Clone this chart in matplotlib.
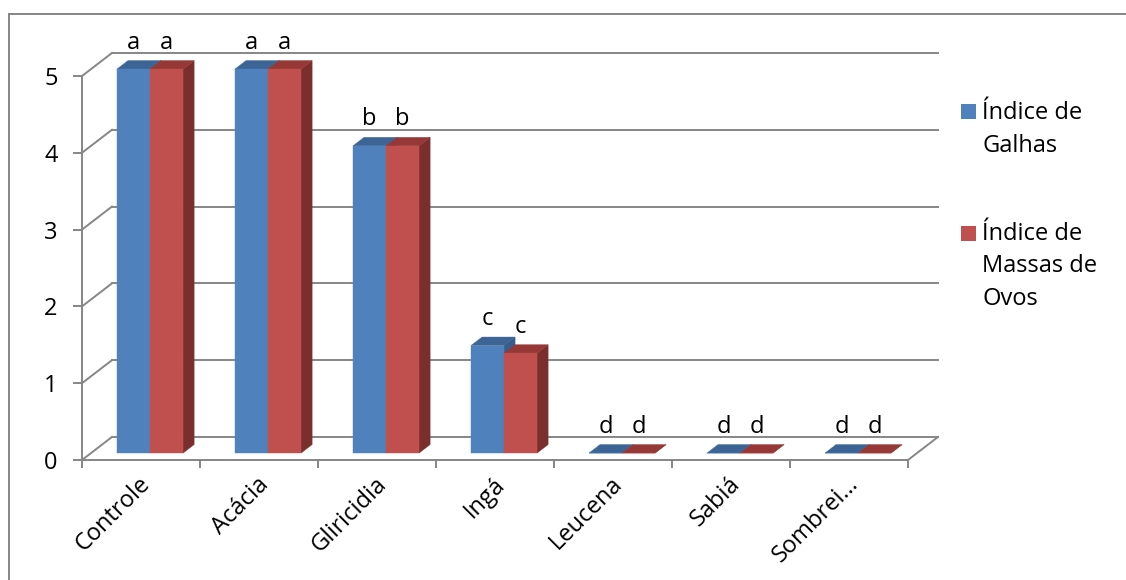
import matplotlib
matplotlib.use("Agg")
import matplotlib.pyplot as plt
from matplotlib.patches import Polygon
from matplotlib.lines import Line2D
from matplotlib.transforms import ScaledTranslation

categories = ["Controle", "Acácia", "Gliricidia", "Ingá", "Leucena", "Sabiá", "Sombrei…"]
galhas = [5, 5, 4, 1.4, 0, 0, 0]
massas = [5, 5, 4, 1.3, 0, 0, 0]
letras_galhas = ["a", "a", "b", "c", "d", "d", "d"]
letras_massas = ["a", "a", "b", "c", "d", "d", "d"]
series_names = ["Índice de\nGalhas", "Índice de\nMassas de\nOvos"]
y_ticks = [0, 1, 2, 3, 4, 5]

W, H = 1126, 580
GRAY = "#868686"
FONT = "Open Sans"
FS = 17

# face colours: front, top, side
blue = ("#4F81BD", "#3C6596", "#385D8A")
red = ("#C0504D", "#953836", "#7B2F2D")

# depth of the 3d box in data units, and where the bars sit inside it
DX, DY = 0.254, 0.30
F1, F2 = 0.30, 0.67
BAR_W = 0.28

plt.rcParams["font.family"] = [FONT, "DejaVu Sans"]

fig = plt.figure(figsize=(W / 100, H / 100), dpi=100)
fig.patch.set_facecolor("white")


def px(x, y):
    return x / W, 1 - y / H


# outer chart border
fig.add_artist(Line2D([px(8.5, 0)[0], px(1130, 0)[0]], [px(0, 13.5)[1]] * 2, color=GRAY, lw=1.4))
fig.add_artist(Line2D([px(8.5, 0)[0]] * 2, [px(0, 13.5)[1], px(0, 590)[1]], color=GRAY, lw=1.4))

l, b = px(82, 460)
r, t = px(908, 76)
ax = fig.add_axes([l, b, r - l, t - b])
ax.set_xlim(0, len(categories))
ax.set_ylim(0, 5)
ax.set_facecolor("none")

n = len(categories)

# back wall gridlines and side wall diagonals
for v in y_ticks:
    ax.plot([DX, n + DX], [v + DY, v + DY], color=GRAY, lw=1.4, zorder=1, clip_on=False)
    ax.plot([0, DX], [v, v + DY], color=GRAY, lw=1.4, zorder=1, clip_on=False)
ax.plot([n, n + DX], [0, DY], color=GRAY, lw=1.4, zorder=1, clip_on=False)


def draw_bar(x0, v, cols):
    ax1, ay1 = F1 * DX, F1 * DY
    ax2, ay2 = F2 * DX, F2 * DY
    front = [(x0 + ax1, ay1), (x0 + BAR_W + ax1, ay1),
             (x0 + BAR_W + ax1, v + ay1), (x0 + ax1, v + ay1)]
    top = [(x0 + ax1, v + ay1), (x0 + BAR_W + ax1, v + ay1),
           (x0 + BAR_W + ax2, v + ay2), (x0 + ax2, v + ay2)]
    side = [(x0 + BAR_W + ax1, ay1), (x0 + BAR_W + ax2, ay2),
            (x0 + BAR_W + ax2, v + ay2), (x0 + BAR_W + ax1, v + ay1)]
    for pts, c in ((side, cols[2]), (top, cols[1]), (front, cols[0])):
        ax.add_patch(Polygon(pts, closed=True, facecolor=c, edgecolor=c,
                             lw=0.3, zorder=3, clip_on=False))


for i in range(n):
    for s, (vals, letters, cols) in enumerate(((galhas, letras_galhas, blue),
                                               (massas, letras_massas, red))):
        x0 = i + 0.5 - BAR_W + s * BAR_W
        draw_bar(x0, vals[i], cols)
        ax.annotate(letters[i], (x0 + BAR_W / 2 + F1 * DX, vals[i] + F1 * DY),
                    xytext=(0, 19), textcoords="offset points", ha="center",
                    va="center", fontsize=FS, annotation_clip=False, zorder=5)

# axes
for side in ("top", "right"):
    ax.spines[side].set_visible(False)
for side in ("left", "bottom"):
    ax.spines[side].set_color(GRAY)
    ax.spines[side].set_linewidth(1.4)
    ax.spines[side].set_zorder(2)

ax.set_yticks(y_ticks)
ax.set_yticklabels([str(v) for v in y_ticks], fontsize=FS)
ax.tick_params(axis="y", length=6.5, width=1.4, color=GRAY, pad=11)

ax.set_xticks(range(n + 1))
ax.set_xticklabels([])
ax.tick_params(axis="x", which="major", length=5.8, width=1.4, color=GRAY)
ax.set_xticks([i + 0.5 for i in range(n)], minor=True)
ax.set_xticklabels(categories, minor=True, fontsize=FS, rotation=45,
                   ha="right", va="center", rotation_mode="anchor")
ax.tick_params(axis="x", which="minor", length=0, pad=15)
shift = ScaledTranslation(6 / 100, 0, fig.dpi_scale_trans)
for lab in ax.get_xticklabels(minor=True):
    lab.set_transform(lab.get_transform() + shift)

# legend
legend_items = [(series_names[0], blue[0], 104, 119), (series_names[1], red[0], 226, 240)]
for label, col, sq_top, base in legend_items:
    x0, y0 = px(961, sq_top + 15)
    x1, y1 = px(976, sq_top)
    fig.add_artist(plt.Rectangle((x0, y0), x1 - x0, y1 - y0, facecolor=col,
                                 edgecolor="none", transform=fig.transFigure))
    for k, line in enumerate(label.split("\n")):
        tx, ty = px(982, base + k * 32.5)
        fig.text(tx, ty, line, fontsize=FS, va="baseline", ha="left")

fig.savefig("out.png", dpi=100, facecolor="white")
